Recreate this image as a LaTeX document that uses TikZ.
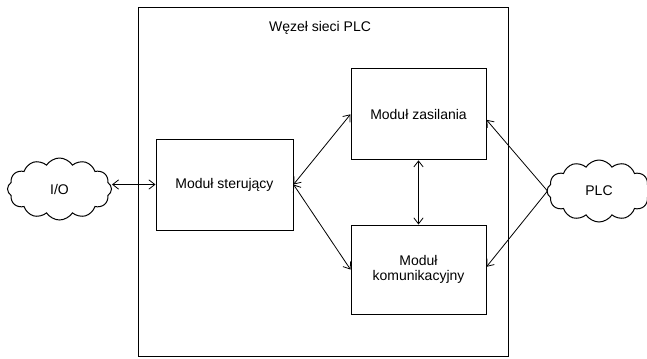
\documentclass[tikz,border=0pt]{standalone}
\usepackage{fontspec}
\setmainfont{Liberation Sans}
\usetikzlibrary{shapes.symbols,arrows.meta,calc}
\begin{document}
\begin{tikzpicture}[x=0.75pt,y=-0.75pt,
  every node/.style={font=\fontsize{10.5pt}{11.25pt}\selectfont},
  modbox/.style={draw,line width=0.75pt,rectangle,inner sep=0pt,align=center},
  cloudnode/.style={draw,line width=0.75pt,cloud,cloud puffs=12,cloud puff arc=115,inner sep=0pt,minimum width=78pt,minimum height=46.5pt},
  link/.style={line width=0.6pt,{Straight Barb[length=4.5pt,width=7pt]}-{Straight Barb[length=4.5pt,width=7pt]}}]
\useasboundingbox (0,0) rectangle (647,358);
\node[draw,line width=0.75pt,rectangle,inner sep=0pt,minimum width=277.5pt,minimum height=261.4pt] (wezel) at (323,181.75) {};
\node (title) at (320,28) {Węzeł sieci PLC};
\node[modbox,minimum width=102.75pt,minimum height=68.25pt] (ster) at (224.5,184.5) {Moduł sterujący};
\node[modbox,minimum width=101.25pt,minimum height=68.25pt,anchor=north,text depth=0pt] (zas) at (418.5,68.3) {};
\node (zastext) at (418.5,114) {Moduł zasilania};
\node[modbox,minimum width=101.25pt,minimum height=66.75pt] (kom) at (418.5,269.5) {Moduł\\komunikacyjny};
\node[cloudnode] (io) at (59.5,189) {I/O};
\node[cloudnode] (plc) at (599,191) {PLC};
\draw[link] (io.east |- ster.west) -- (ster.west);
\draw[link] (ster.east) -- (zas.west);
\draw[link] (ster.east) -- (kom.west);
\draw[link] (zas.south) -- (kom.north);
\coordinate (plcl) at ($(plc.west)+(1,0)$);
\draw[link] ($(zas.north east)!0.56!(zas.south east)$) -- (plcl) -- ($(kom.north east)!0.47!(kom.south east)$);
\end{tikzpicture}
\end{document}
